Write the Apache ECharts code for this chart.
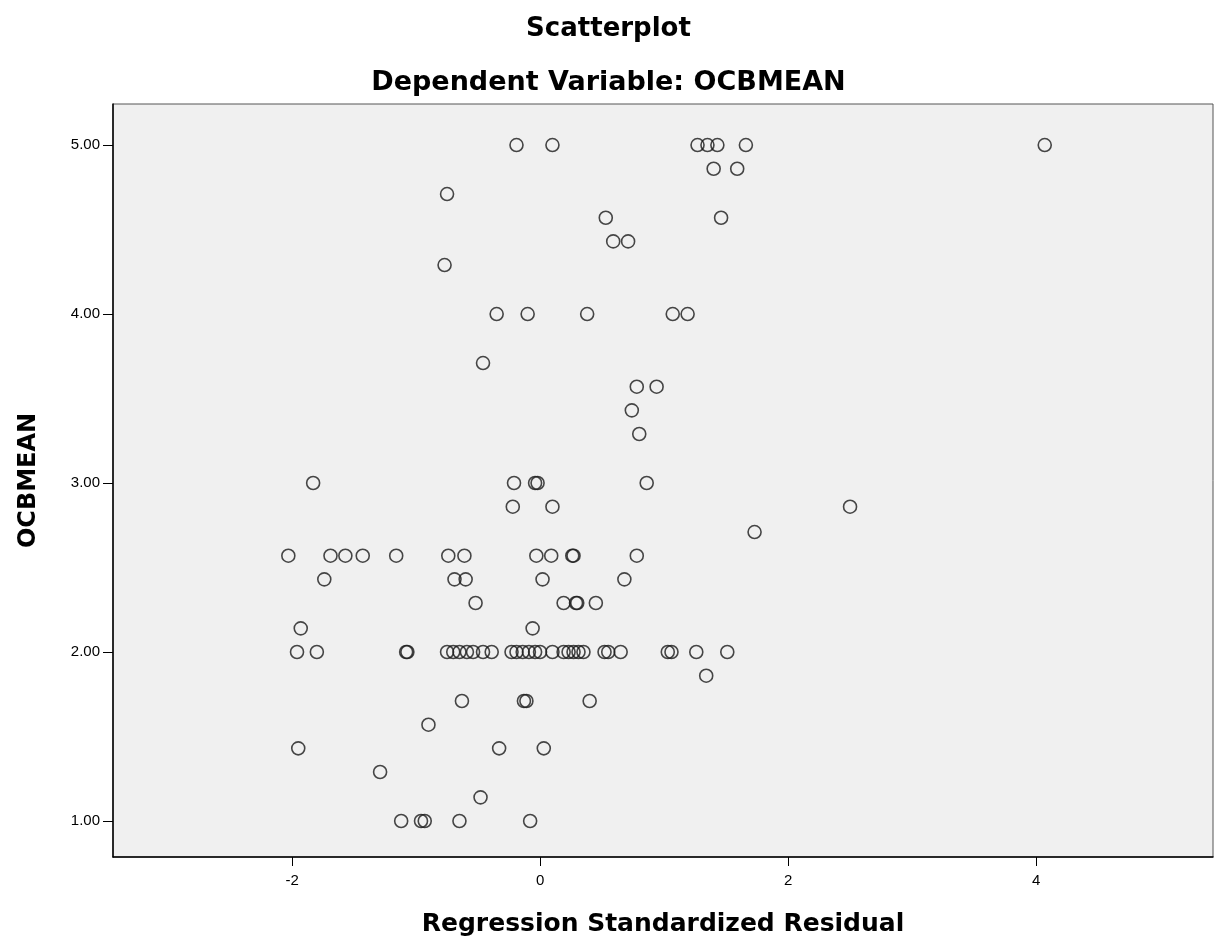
<!DOCTYPE html>
<html>
<head>
<meta charset="utf-8">
<title>Scatterplot</title>
<script src="https://cdn.jsdelivr.net/npm/echarts@6/dist/echarts.min.js"></script>
<style>
  html, body { margin: 0; padding: 0; background: #fff; }
  #chart { width: 1217px; height: 949px; }
</style>
</head>
<body>
<div id="chart"></div>
<script>
// OCBMEAN levels (steps of 1/7) and the standardized residuals read at each level
var ocbLevels = [5.00, 4.86, 4.71, 4.57, 4.43, 4.29, 4.00, 3.71, 3.57, 3.43, 3.29, 3.00, 2.86,
                 2.71, 2.57, 2.43, 2.29, 2.14, 2.00, 1.86, 1.71, 1.57, 1.43, 1.29, 1.14, 1.00];

var res_500 = [-0.19, 0.10, 1.27, 1.35, 1.43, 1.66, 4.07];
var res_486 = [1.40, 1.59];
var res_471 = [-0.75];
var res_457 = [0.53, 1.46];
var res_443 = [0.59, 0.71];
var res_429 = [-0.77];
var res_400 = [-0.35, -0.10, 0.38, 1.07, 1.19];
var res_371 = [-0.46];
var res_357 = [0.78, 0.94];
var res_343 = [0.74];
var res_329 = [0.80];
var res_300 = [-1.83, -0.21, -0.04, -0.02, 0.86];
var res_286 = [-0.22, 0.10, 2.50];
var res_271 = [1.73];
var res_257 = [-2.03, -1.69, -1.57, -1.43, -1.16, -0.74, -0.61, -0.03, 0.09, 0.26, 0.27, 0.78];
var res_243 = [-1.74, -0.69, -0.60, 0.02, 0.68];
var res_229 = [-0.52, 0.19, 0.29, 0.30, 0.45];
var res_214 = [-1.93, -0.06];
var res_200 = [-1.96, -1.80, -1.08, -1.07, -0.75, -0.70, -0.65, -0.59, -0.54, -0.46, -0.39,
               -0.23, -0.19, -0.14, -0.09, -0.04, 0.00, 0.10, 0.19, 0.23, 0.27, 0.31, 0.35,
               0.52, 0.55, 0.65, 1.03, 1.06, 1.26, 1.51];
var res_186 = [1.34];
var res_171 = [-0.63, -0.13, -0.11, 0.40];
var res_157 = [-0.90];
var res_143 = [-1.95, -0.33, 0.03];
var res_129 = [-1.29];
var res_114 = [-0.48];
var res_100 = [-1.12, -0.96, -0.93, -0.65, -0.08];

var residualsByLevel = [res_500, res_486, res_471, res_457, res_443, res_429, res_400, res_371,
                        res_357, res_343, res_329, res_300, res_286, res_271, res_257, res_243,
                        res_229, res_214, res_200, res_186, res_171, res_157, res_143, res_129,
                        res_114, res_100];

var xTicks = [-2, 0, 2, 4];
var yTicks = [1, 2, 3, 4, 5];

// flatten into [residual, ocbmean] pairs
var points = [];
for (var i = 0; i < ocbLevels.length; i++) {
  var row = residualsByLevel[i];
  for (var j = 0; j < row.length; j++) {
    points.push([row[j], ocbLevels[i]]);
  }
}

var titleFont = 'DejaVu Sans';

var myChart = echarts.init(document.getElementById('chart'));

var option = {
  backgroundColor: '#ffffff',
  animation: false,
  title: [
    {
      text: 'Scatterplot',
      left: 'center',
      top: 11,
      textStyle: { fontFamily: titleFont, fontWeight: 'bold', fontSize: 26, color: '#000' }
    },
    {
      text: 'Dependent Variable: OCBMEAN',
      left: 'center',
      top: 64,
      textStyle: { fontFamily: titleFont, fontWeight: 'bold', fontSize: 27, color: '#000' }
    }
  ],
  grid: {
    show: true,
    left: 113,
    right: 4,
    top: 104,
    bottom: 92,
    backgroundColor: '#f0f0f0',
    borderColor: '#555',
    borderWidth: 1
  },
  xAxis: {
    type: 'value',
    min: -3.444,
    max: 5.427,
    name: 'Regression Standardized Residual',
    nameLocation: 'middle',
    nameGap: 55,
    nameTextStyle: { fontFamily: titleFont, fontWeight: 'bold', fontSize: 25, color: '#000' },
    axisLine: { onZero: false, lineStyle: { color: '#000', width: 1.5 } },
    axisTick: { show: true, length: 9, customValues: xTicks, lineStyle: { color: '#000' } },
    axisLabel: {
      customValues: xTicks,
      margin: 16,
      fontFamily: 'Liberation Sans',
      fontSize: 15,
      color: '#000'
    },
    splitLine: { show: false }
  },
  yAxis: {
    type: 'value',
    min: 0.787,
    max: 5.243,
    name: 'OCBMEAN',
    nameLocation: 'middle',
    nameRotate: 90,
    nameGap: 72,
    nameTextStyle: { fontFamily: titleFont, fontWeight: 'bold', fontSize: 24, color: '#000' },
    axisLine: { onZero: false, lineStyle: { color: '#000', width: 1.5 } },
    axisTick: { show: true, length: 10, customValues: yTicks, lineStyle: { color: '#000' } },
    axisLabel: {
      customValues: yTicks,
      margin: 13,
      fontFamily: 'Liberation Sans',
      fontSize: 15,
      color: '#000',
      formatter: function (v) { return v.toFixed(2); }
    },
    splitLine: { show: false }
  },
  series: [
    {
      type: 'scatter',
      data: points,
      symbol: 'circle',
      symbolSize: 13,
      itemStyle: {
        color: 'rgba(0,0,0,0)',
        borderColor: '#1a1a1a',
        borderWidth: 1.6
      }
    }
  ]
};

myChart.setOption(option);
</script>
</body>
</html>
